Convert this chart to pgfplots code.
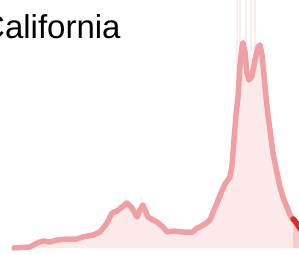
\documentclass[border=0pt]{standalone}
\usepackage{pgfplots}
\usepackage{pgfplotstable}
\pgfplotsset{compat=1.18}
\usepackage{fontspec}
\setmainfont{Liberation Sans}
\definecolor{linepink}{RGB}{240,160,162}
\definecolor{fillpink}{RGB}{252,233,233}
\definecolor{darkred}{RGB}{218,42,42}
\definecolor{darkfill}{RGB}{246,202,202}
\definecolor{streak}{RGB}{253,238,238}
\pgfplotstableread{
x y
14 0
30 1
37 5
43 7
50 6
57 8
67 9
77 9
83 11
93 13
100 16
107 25
112 35
117 37
122 41
127 45
132 40
137 31
140 38
143 43
148 31
153 28
157 26
163 21
167 16
173 17
183 16
193 16
197 20
200 21
205 24
210 28
214 38
217 45
221 55
225 64
230 71
232 83
234 108
236 133
238 151
240 183
242 201
243 205
245 196
247 175
249 168
252 172
255 188
258 201
260 203
262 193
264 173
266 151
268 133
270 118
273 95
277 75
280 61
284 48
287 41
290 33
293 29
295 27
}\main
\pgfplotstableread{
x y
293 29
295 27
299 21
303 15
}\recent
\pgfplotstableread{
x y
125 52
141 50
237 260
240 260
246 260
251 260
255 260
}\spikes
\begin{document}
\begin{tikzpicture}
\useasboundingbox (0,0) rectangle (299pt,254pt);
\clip (0,0) rectangle (299pt,254pt);
\begin{axis}[at={(0,0)}, anchor=south west, width=299pt, height=254pt,
  scale only axis, xmin=0, xmax=299, ymin=-6, ymax=248, hide axis]
\addplot[ycomb, draw=streak, line width=1.2pt, mark=none] table[x=x,y=y] {\spikes};
\addplot[fill=fillpink, draw=none] table[x=x,y=y] {\main} \closedcycle;
\addplot[fill=darkfill, draw=none] table[x=x,y=y] {\recent} \closedcycle;
\addplot[draw=linepink, line width=5.5pt, line cap=round, line join=round, mark=none] table[x=x,y=y] {\main};
\addplot[draw=darkred, line width=5.5pt, line cap=round, line join=round, mark=none] table[x=x,y=y] {\recent};
\end{axis}
\node[anchor=base west, inner sep=0pt, font=\fontsize{33}{40}\selectfont] at (-19pt,215pt) {California};
\end{tikzpicture}
\end{document}
